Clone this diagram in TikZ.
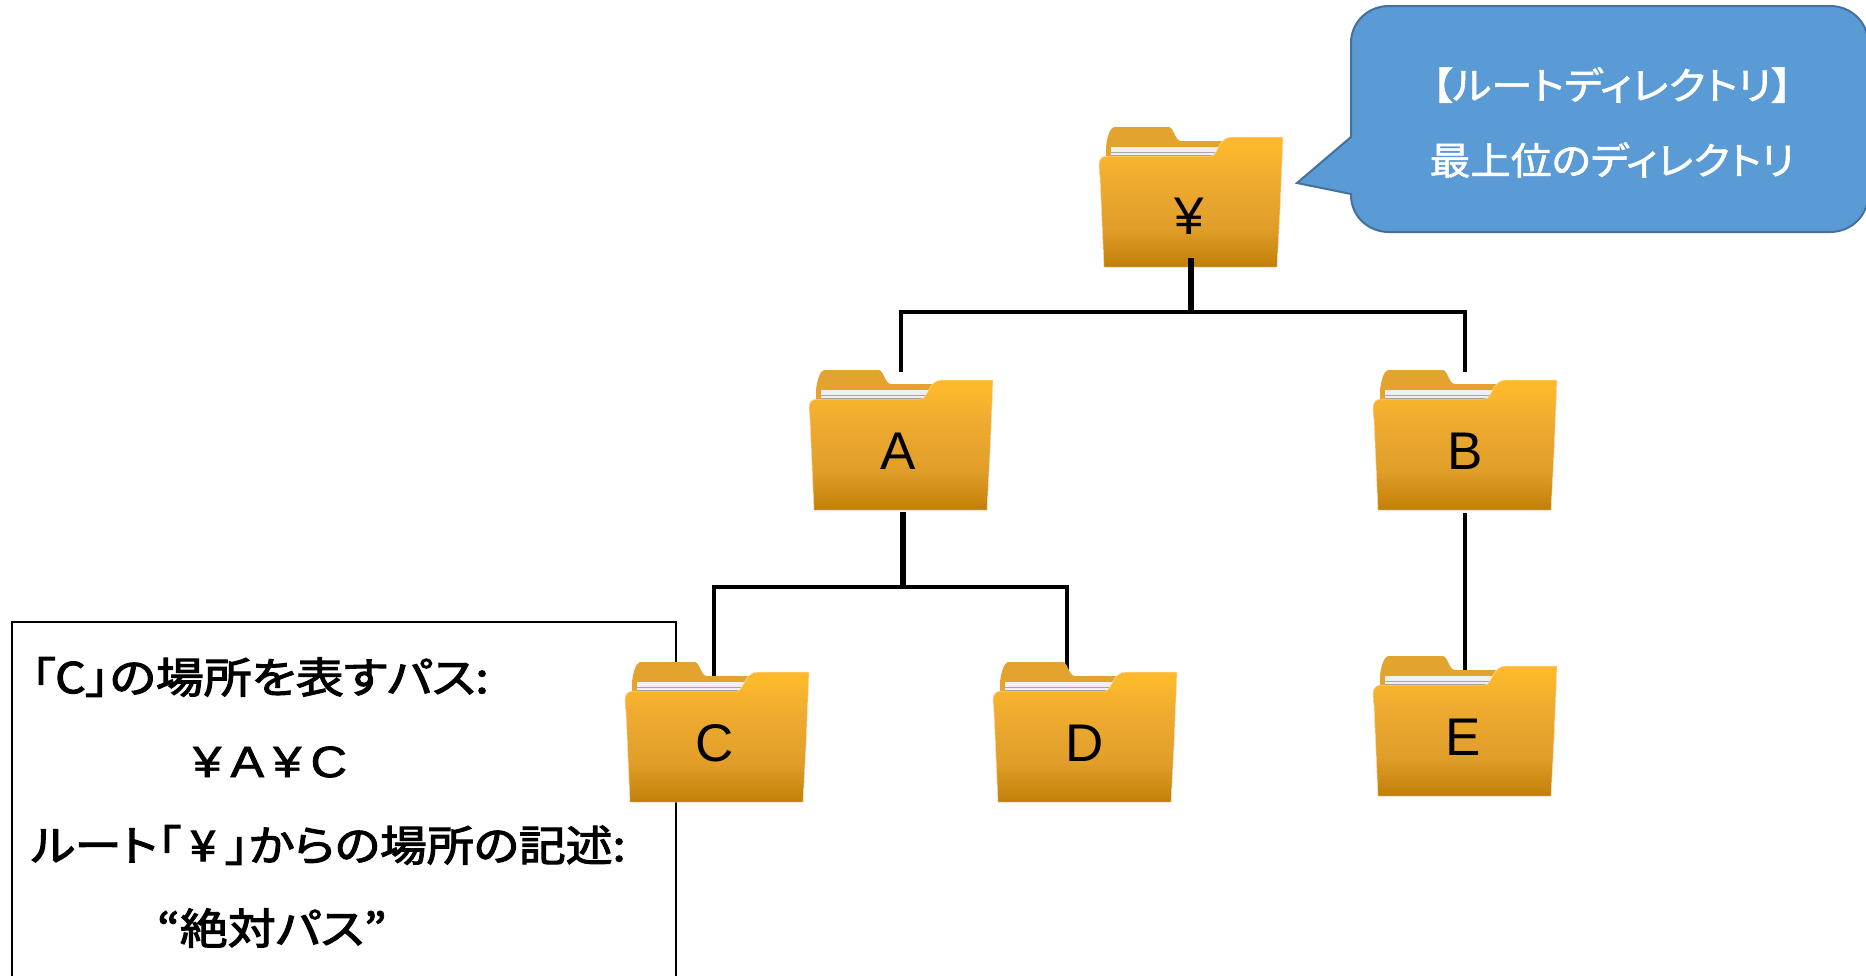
\documentclass[tikz,border=0pt]{standalone}
\usepackage{fontspec}
\setmainfont{Liberation Sans}
\newfontfamily\jp[RawFeature=+palt,FakeBold=2.5]{Noto Sans CJK JP}
\newfontfamily\jpw[RawFeature=+palt,FakeBold=1.5]{Noto Sans CJK JP}
\newfontfamily\latwide[LetterSpace=18,FakeBold=1.5]{Liberation Sans}
\definecolor{fbk}{RGB}{226,163,47}
\definecolor{fa}{RGB}{192,126,10}
\definecolor{fb}{RGB}{200,134,14}
\definecolor{fc}{RGB}{224,158,42}
\definecolor{fd}{RGB}{240,172,48}
\definecolor{fe}{RGB}{253,185,43}
\definecolor{calloutfill}{HTML}{5B9BD5}
\definecolor{calloutline}{HTML}{41719C}
\pgfdeclareverticalshading{folderfront}{100bp}{
  color(0bp)=(fa);
  color(25bp)=(fa);
  color(28bp)=(fb);
  color(40bp)=(fc);
  color(60bp)=(fd);
  color(72bp)=(fe);
  color(100bp)=(fe)}
\tikzset{
  folderbox/.style={minimum width=184pt,minimum height=140pt,inner sep=0pt,outer sep=0pt,anchor=north west},
  flabel/.style={font=\fontsize{53}{53}\selectfont,inner sep=0pt,text=black},
  bus/.style={draw=black,line width=4.6pt,line cap=rect,line join=miter},
  infoline/.style={font=\jp\fontsize{42.4}{42.4}\selectfont,inner sep=0pt,anchor=west,text=black},
  callouttext/.style={font=\jpw\fontsize{38}{38}\selectfont,inner sep=0pt,text=white},
  folderpic/.pic={
    \fill[fbk] (7,30) -- (7,20) .. controls (8,10) and (11,1) .. (15,0) -- (70,0)
       .. controls (75,1) and (76,14) .. (82,14) -- (125,14) -- (125,31) -- cycle;
    \fill[white!88!gray] (12,20) -- (121,20) -- (116,30) -- (12,30) -- cycle;
    \fill[gray!70] (12,24.5) rectangle (119,25.5);
    \fill[gray!80] (12,28) rectangle (117,29.5);
    \shade[shading=folderfront,draw=white!70!orange,line width=0.5pt]
       (0,38) .. controls (0,32) and (3,29) .. (8,29) -- (112,29)
       .. controls (119,29) and (119,10) .. (133,10) -- (184,10)
       -- (181,83) -- (178,140) -- (5,140) -- (1,50) -- cycle;
  }
}
\begin{document}
\begin{tikzpicture}[x=1pt,y=-1pt]
\useasboundingbox (0,0) rectangle (1866,975);
% info box
\node[draw=black,line width=2pt,minimum width=664pt,minimum height=400pt,anchor=north west,inner sep=0pt] (info) at (10.5,621) {};
% invisible folder frames
\node[folderbox] (root) at (1099,127) {};
\node[folderbox] (a) at (809,370) {};
\node[folderbox] (b) at (1373,370) {};
\node[folderbox] (c) at (625,662) {};
\node[folderbox] (d) at (993,662) {};
\node[folderbox] (e) at (1373,656) {};
\coordinate (rj) at (1191,312);
\coordinate (aj) at (903,587);
% connectors behind the folders
\draw[bus] (a.north) -- (a.north |- rj) -- (b.north |- rj) -- (b.north);
\draw[bus] ([xshift=-3pt,yshift=-14pt]c.north) -- ([xshift=-3pt]c.north |- aj) -- ([xshift=-18pt]d.north |- aj) -- ([xshift=-18pt,yshift=-14pt]d.north);
% folders
\pic at (root.north west) {folderpic};
\pic at (a.north west) {folderpic};
\pic at (b.north west) {folderpic};
\pic at (c.north west) {folderpic};
\pic at (d.north west) {folderpic};
\pic at (e.north west) {folderpic};
% stems
\draw[line width=5.5pt,draw=black] ([yshift=9pt]root.south) -- (rj);
\draw[line width=5.5pt,draw=black] ([xshift=2pt,yshift=-2pt]a.south) -- (aj);
\draw[line width=4.4pt,draw=black] ([yshift=-3pt]b.south) -- ([yshift=-14pt]e.north);
% labels
\node[flabel] (lroot) at (1189,216) {¥};
\node[flabel] (la) at (898,451) {A};
\node[flabel] (lb) at (1465,451) {B};
\node[flabel] (lc) at (715,743) {C};
\node[flabel] (ld) at (1085,743) {D};
\node[flabel] (le) at (1463,737) {E};
% callout
\path[fill=calloutfill,draw=calloutline,line width=2pt]
  (1351,43) .. controls (1351,22) and (1368,6) .. (1389,6) -- (1830,6)
  .. controls (1851,6) and (1868,22) .. (1868,43) -- (1868,195)
  .. controls (1868,216) and (1851,232) .. (1830,232) -- (1389,232)
  .. controls (1368,232) and (1351,216) .. (1351,195) -- (1351,194) -- (1297,183) -- (1351,137) -- cycle;
\node[callouttext] (t1) at (1612,85) {\scalebox{1.09}[1]{【ルートディレクトリ】}};
\node[callouttext] (t2) at (1612,160) {\scalebox{1.07}[1]{最上位のディレクトリ}};
% info text
\node[infoline] (i1) at (31,677) {\scalebox{1.13}[1]{「C」の場所を表すパス:}};
\node[infoline] (i2) at (193,762) {\latwide\fontsize{44}{44}\selectfont\scalebox{1.15}[1]{¥A¥C}};
\node[infoline] (i3) at (31,845) {\scalebox{1.105}[1]{ルート「\kern 0.2em¥\kern 0.2em」からの場所の記述:}};
\node[infoline] (i4) at (157,928) {\scalebox{1.13}[1]{“絶対パス”}};
\end{tikzpicture}
\end{document}
